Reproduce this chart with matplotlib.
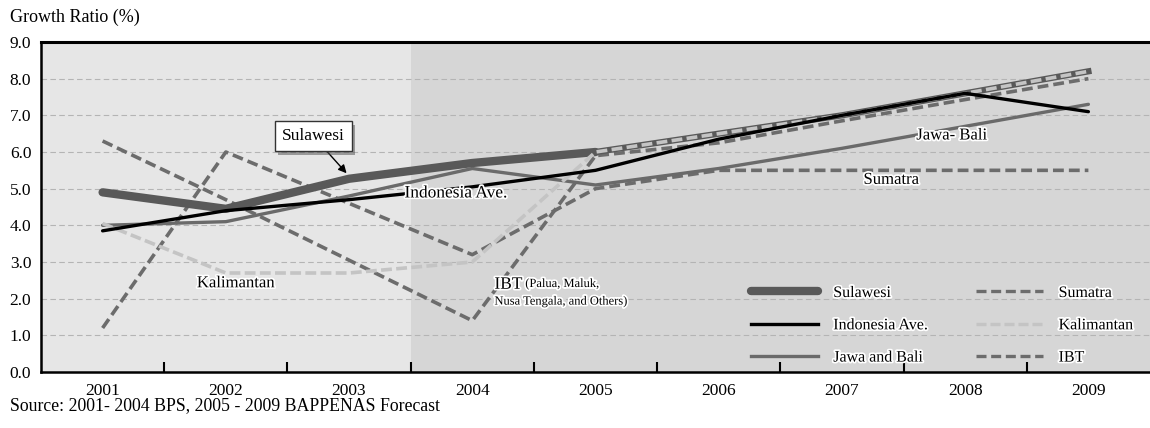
import matplotlib
matplotlib.use("Agg")
import matplotlib.pyplot as plt
import matplotlib.patheffects as pe
from matplotlib.lines import Line2D
import numpy as np

plt.rcParams['font.family'] = ['Liberation Serif', 'DejaVu Serif']

years = [2001, 2002, 2003, 2004, 2005, 2006, 2007, 2008, 2009]
sulawesi = [4.9, 4.45, 5.27, 5.7, 6.0, 6.5, 7.0, 7.6, 8.2]
indonesia = [3.85, 4.4, 4.7, 5.05, 5.5, 6.35, 7.0, 7.6, 7.1]
jawa_bali = [4.0, 4.1, 4.8, 5.55, 5.1, 5.55, 6.1, 6.7, 7.3]
sumatra = [1.2, 6.0, 4.6, 3.2, 5.0, 5.5, 5.5, 5.5, 5.5]
kalimantan = [4.05, 2.7, 2.7, 3.0, 6.0, 6.5, 7.0, 7.6, 8.2]
ibt = [6.3, 4.7, 3.05, 1.4, 5.9, 6.25, 6.85, 7.43, 8.0]
yticks = [0, 1, 2, 3, 4, 5, 6, 7, 8, 9]

fig = plt.figure(figsize=(11.5, 4.28), dpi=100)
ax = fig.add_axes([41/1150, 56/428, 1109/1150, 330/428])
ax.set_xlim(2000.5, 2009.5)
ax.set_ylim(0, 9)

# shaded periods (BPS data / forecast)
ax.axvspan(2000.5, 2003.5, color='#e6e6e6', zorder=0, lw=0)
ax.axvspan(2003.5, 2009.5, color='#d6d6d6', zorder=0, lw=0)
for v in yticks[1:-1]:
    ax.axhline(v, color='#b4b4b4', lw=0.8, ls=(0, (5, 3)), zorder=1)

halo = [pe.withStroke(linewidth=2.5, foreground='white')]
x = np.array(years)

ax.plot(x, ibt, color='#6c6c6c', lw=2.6, ls=(0, (3, 1.4)), zorder=3)
ax.plot(x, sumatra, color='#6c6c6c', lw=2.6, ls=(0, (3, 1.4)), zorder=3)
ax.plot(x, jawa_bali, color='#6a6a6a', lw=2.4, zorder=4, solid_capstyle='round')
ax.plot(x[:5], sulawesi[:5], color='#595959', lw=6, zorder=5, solid_capstyle='round')
ax.plot(x[4:], sulawesi[4:], color='#595959', lw=4.5, zorder=5)
ax.plot(x, kalimantan, color='#c4c4c4', lw=2.6, ls=(0, (3, 1.2)), zorder=6)
ax.plot(x, indonesia, color='black', lw=2.4, zorder=7, solid_capstyle='round')

# inline labels
ann = ax.annotate('Sulawesi', xy=(2002.98, 5.42), xytext=(2002.71, 6.43),
                  ha='center', va='center', fontsize=12.5, zorder=9,
                  bbox=dict(boxstyle='square,pad=0.4', fc='white', ec='#333333', lw=1),
                  arrowprops=dict(arrowstyle='-|>', color='black', lw=1, shrinkA=0,
                                  shrinkB=0, mutation_scale=12))
ann.get_bbox_patch().set_path_effects([pe.SimplePatchShadow(offset=(2.5, -2.5),
                                                            alpha=0.5), pe.Normal()])
ax.text(2003.45, 4.87, 'Indonesia Ave.', fontsize=12.5, va='center', ha='left',
        zorder=8, path_effects=halo)
ax.text(2002.08, 2.42, 'Kalimantan', fontsize=12, va='center', ha='center',
        zorder=8, path_effects=halo)
ax.text(2007.89, 6.45, 'Jawa- Bali', fontsize=12, va='center', ha='center',
        zorder=8, path_effects=halo)
ax.text(2007.4, 5.24, 'Sumatra', fontsize=12, va='center', ha='center',
        zorder=8, path_effects=halo)
ax.text(2004.18, 2.38, 'IBT', fontsize=12.5, va='center', ha='left',
        zorder=8, path_effects=halo)
ax.text(2004.43, 2.4, '(Palua, Maluk,', fontsize=9, va='center', ha='left',
        zorder=8, path_effects=halo)
ax.text(2004.18, 1.92, 'Nusa Tengala, and Others)', fontsize=9, va='center', ha='left',
        zorder=8, path_effects=halo)

handles = [
    Line2D([], [], color='#595959', lw=6, solid_capstyle='round'),
    Line2D([], [], color='black', lw=2.4),
    Line2D([], [], color='#6a6a6a', lw=2.4),
    Line2D([], [], color='#6c6c6c', lw=2.4, ls=(0, (3, 1.4))),
    Line2D([], [], color='#c4c4c4', lw=2.4, ls=(0, (3, 1.2))),
    Line2D([], [], color='#6c6c6c', lw=2.4, ls=(0, (3, 1.4))),
]
labels = ['Sulawesi', 'Indonesia Ave.', 'Jawa and Bali', 'Sumatra', 'Kalimantan', 'IBT']
leg = ax.legend(handles, labels, ncol=2, loc='upper left',
                bbox_to_anchor=(751/1150, 1 - 285/428), bbox_transform=fig.transFigure,
                frameon=False, fontsize=11.5, handlelength=4.2, handletextpad=0.95,
                columnspacing=3.05, labelspacing=1.02, borderpad=0, borderaxespad=0)
for t in leg.get_texts():
    t.set_path_effects(halo)

ax.set_yticks(yticks)
ax.set_yticklabels([f'{v:.1f}' for v in yticks], fontsize=12.5)
ax.set_xticks(years)
ax.set_xticklabels([str(y) for y in years], fontsize=12.5)
ax.set_xticks(np.arange(2001.5, 2009, 1), minor=True)
ax.tick_params(axis='x', which='major', length=0, pad=8)
ax.tick_params(axis='x', which='minor', direction='in', length=7, width=1.5)
ax.tick_params(axis='y', length=0, pad=7)

for s in ['left', 'bottom']:
    ax.spines[s].set_linewidth(1.8)
ax.spines['top'].set_linewidth(2.2)
ax.spines['right'].set_visible(False)

fig.text(10/1150, 1 - 17/428, 'Growth Ratio (%)', fontsize=13, va='center', ha='left')
fig.text(10/1150, 1 - 406/428, 'Source: 2001- 2004 BPS, 2005 - 2009 BAPPENAS Forecast',
         fontsize=12.8, va='center', ha='left')

fig.savefig('out.png', dpi=100)
